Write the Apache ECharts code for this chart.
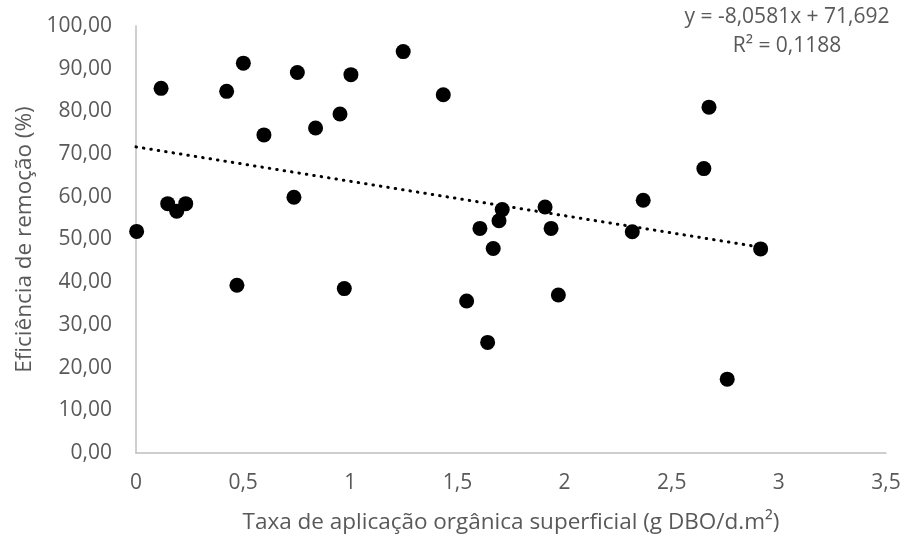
<!DOCTYPE html>
<html>
<head>
<meta charset="utf-8">
<script src="https://cdn.jsdelivr.net/npm/echarts@6/dist/echarts.min.js"></script>
<style>html,body{margin:0;padding:0;background:#fff}#c{width:908px;height:539px}</style>
</head>
<body>
<div id="c"></div>
<script>
var xValues = [0.003, 0.117, 0.148, 0.19, 0.232, 0.423, 0.501, 0.597, 0.737, 0.753, 0.838, 0.952, 1.003, 1.247, 1.434,
  2.674, 2.650, 2.367, 1.709, 1.694, 1.605, 1.667, 1.909, 1.937, 2.316, 2.915,
  0.471, 0.972, 1.543, 1.971, 1.641, 2.759];
var yValues = [51.9, 85.4, 58.4, 56.6, 58.4, 84.7, 91.3, 74.5, 59.9, 89.1, 76.1, 79.4, 88.6, 94.0, 83.9,
  81.0, 66.6, 59.2, 57.0, 54.4, 52.6, 47.9, 57.6, 52.6, 51.8, 47.8,
  39.3, 38.5, 35.6, 37.0, 25.9, 17.3];
var trendSlope = -8.0581;
var trendIntercept = 71.692;
var equationLines = ['y = -8,0581x + 71,692', 'R² = 0,1188'];
var xAxisTitle = 'Taxa de aplicação orgânica superficial (g DBO/d.m²)';
var yAxisTitle = 'Eficiência de remoção (%)';

var points = xValues.map(function (x, i) { return [x, yValues[i]]; });
var xMax = Math.max.apply(null, xValues);
var trend = [[0, trendIntercept], [xMax, trendIntercept + trendSlope * xMax]];

var font = 'Open Sans';
var grey = '#595959';
var chart = echarts.init(document.getElementById('c'));
chart.setOption({
  animation: false,
  grid: { left: 136, right: 22, top: 26, bottom: 85, containLabel: false },
  xAxis: {
    type: 'value', min: 0, max: 3.5, interval: 0.5,
    name: xAxisTitle, nameLocation: 'middle', nameGap: 58,
    nameTextStyle: { fontFamily: font, fontSize: 22.5, color: grey },
    axisLine: { show: true, lineStyle: { color: '#bfbfbf', width: 1.5 } },
    axisTick: { show: false },
    splitLine: { show: false },
    axisLabel: { fontFamily: font, fontSize: 21, color: grey, margin: 20,
      formatter: function (v) { return String(v).replace('.', ','); } }
  },
  yAxis: {
    type: 'value', min: 0, max: 100, interval: 10,
    name: yAxisTitle, nameLocation: 'middle', nameGap: 100, nameRotate: 90,
    nameTextStyle: { fontFamily: font, fontSize: 22.5, color: grey },
    axisLine: { show: true, lineStyle: { color: '#bfbfbf', width: 1.5 } },
    axisTick: { show: false },
    splitLine: { show: false },
    axisLabel: { fontFamily: font, fontSize: 21, color: grey, margin: 24,
      formatter: function (v) { return v.toFixed(2).replace('.', ','); } }
  },
  series: [
    {
      type: 'scatter', data: points, symbol: 'circle', symbolSize: 15,
      itemStyle: { color: '#000', opacity: 1 }, z: 3
    },
    {
      type: 'line', data: trend, symbol: 'none', silent: true,
      lineStyle: { color: '#000', width: 3, type: [0.5, 7], cap: 'round' }, z: 2
    }
  ],
  graphic: [
    { type: 'text', x: 787, y: 3, style: { text: equationLines.join('\n'), fontFamily: font, fontSize: 21, fill: grey, align: 'center', lineHeight: 29 } }
  ]
});
</script>
</body>
</html>
